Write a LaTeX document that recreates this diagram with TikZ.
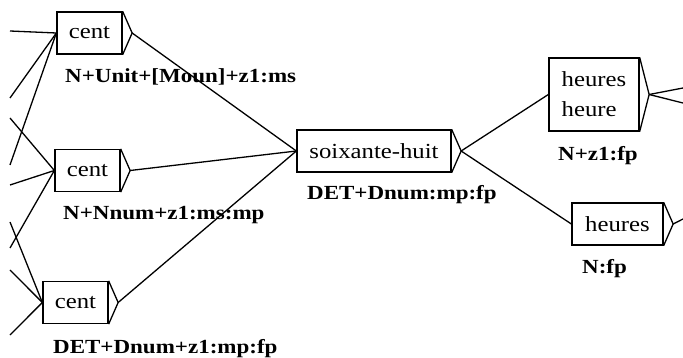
\documentclass[tikz,border=0pt]{standalone}
\usepackage{fontspec}
\setmainfont{Liberation Serif}
\newfontfamily\boxfont[FakeStretch=1.15]{Liberation Serif}
\newfontfamily\labfont[FakeStretch=1.15]{Liberation Serif}
\usetikzlibrary{calc}
\tikzset{
  box/.style={draw, line width=1.3pt, rectangle, inner sep=0pt, minimum height=42pt,
    font=\boxfont\fontsize{21.5}{30}\selectfont},
  lab/.style={anchor=base west, inner sep=0pt, font=\labfont\bfseries\fontsize{20}{24}\selectfont},
  conn/.style={line width=1.3pt},
  tipl/.style={line width=1.3pt, line join=miter}
}
\begin{document}
\begin{tikzpicture}[x=1pt,y=-1pt]
\useasboundingbox (0,0) rectangle (683,358);
% boxes
\node[box, minimum width=65pt] (c1) at (89.5,33) {cent};
\node[box, minimum width=65pt] (c2) at (87.5,170.5) {cent};
\node[box, minimum width=65pt] (c3) at (75.5,302.5) {cent};
\node[box, minimum width=154pt] (s) at (374,151) {soixante-huit};
\node[box, minimum width=90pt, minimum height=73pt, align=left] (h1) at (594,94.5) {heures\\heure};
\node[box, minimum width=91pt] (h2) at (617.5,224) {heures};
% labels
\node[lab] (l1) at (65,83) {N+Unit+[Moun]+z1:ms};
\node[lab] (l2) at (63,220) {N+Nnum+z1:ms:mp};
\node[lab] (l3) at (53,353) {DET+Dnum+z1:mp:fp};
\node[lab] (l4) at (307,200) {DET+Dnum:mp:fp};
\node[lab] (l5) at (558,161) {N+z1:fp};
\node[lab] (l6) at (582,274) {N:fp};
% output triangles
\foreach \n in {c1,c2,c3,s,h1,h2}{
  \coordinate (\n t) at ($(\n.east)+(9.5,0)$);
  \draw[tipl] (\n.north east) -- (\n t) -- (\n.south east);
}
% free ends
\coordinate (a1) at (10,31);
\coordinate (a2) at (10,98);
\coordinate (a3) at (10,165);
\coordinate (b1) at (10,118);
\coordinate (b2) at (10,185);
\coordinate (b3) at (10,248);
\coordinate (d1) at (10,222);
\coordinate (d2) at (10,270);
\coordinate (d3) at (10,335);
\coordinate (r1) at (683,88);
\coordinate (r2) at (683,103);
\coordinate (r3) at (683,219);
% connectors
\foreach \p in {a1,a2,a3}{\draw[conn] (\p) -- (c1.west);}
\foreach \p in {b1,b2,b3}{\draw[conn] (\p) -- (c2.west);}
\foreach \p in {d1,d2,d3}{\draw[conn] (\p) -- (c3.west);}
\draw[conn] (c1t) -- (s.west);
\draw[conn] (c2t) -- (s.west);
\draw[conn] (c3t) -- (s.west);
\draw[conn] (st) -- (h1.west);
\draw[conn] (st) -- (h2.west);
\draw[conn] (h1t) -- (r1);
\draw[conn] (h1t) -- (r2);
\draw[conn] (h2t) -- (r3);
\end{tikzpicture}
\end{document}
